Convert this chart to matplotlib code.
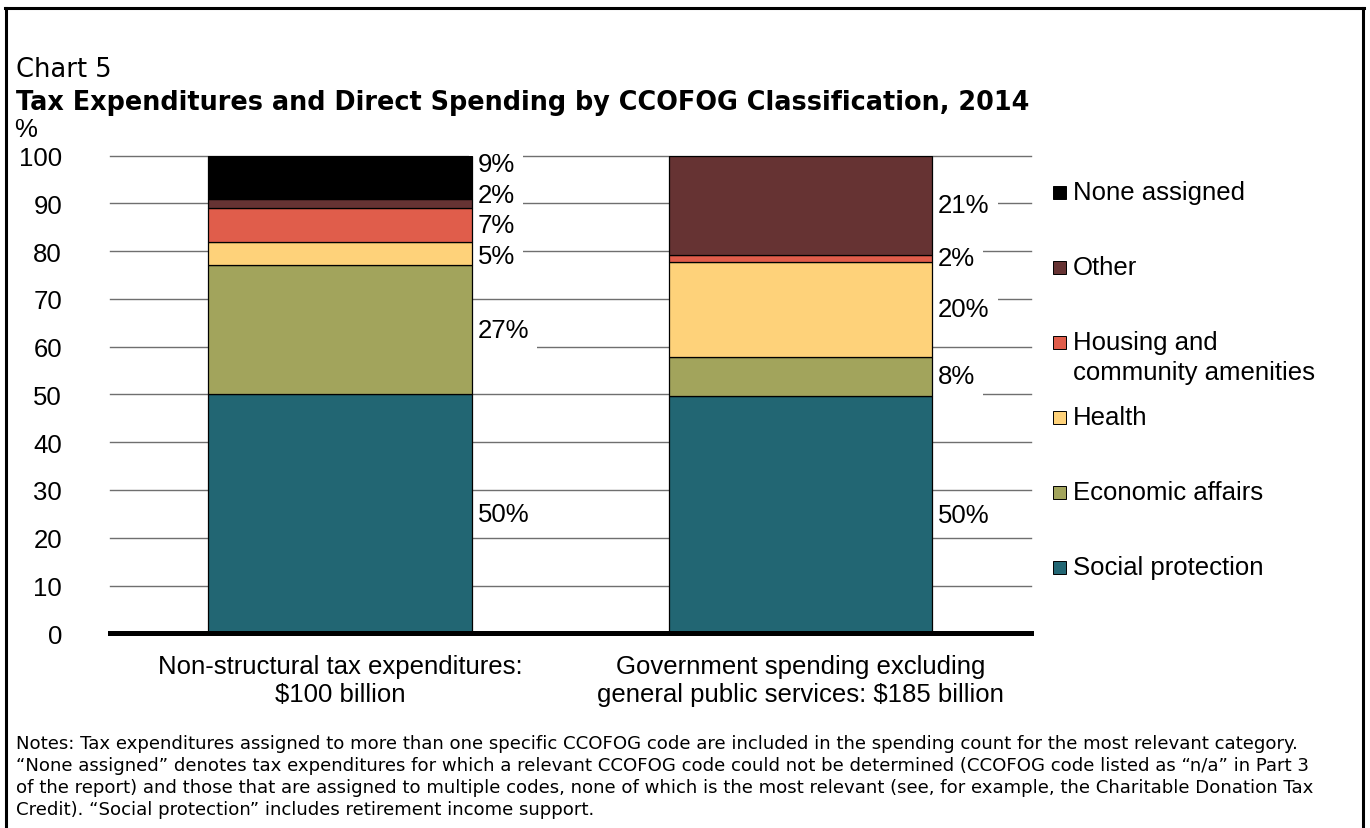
import matplotlib
matplotlib.use("Agg")
import matplotlib.pyplot as plt
from matplotlib.patches import Rectangle
from matplotlib.lines import Line2D
from matplotlib.transforms import blended_transform_factory

# ---- data -------------------------------------------------------------
groups = ["Non-structural tax expenditures:\n$100 billion",
          "Government spending excluding\ngeneral public services: $185 billion"]
series = ["Social protection", "Economic affairs", "Health",
          "Housing and\ncommunity amenities", "Other", "None assigned"]
colors = ["#226673", "#A2A45C", "#FED27A", "#E05D4B", "#663333", "#000000"]

tax_expenditures = [50, 27, 5, 7, 2, 9]
gov_spending = [49.6, 8.3, 19.8, 1.5, 20.8, 0]
yticks = [0, 10, 20, 30, 40, 50, 60, 70, 80, 90, 100]

notes = ("Notes: Tax expenditures assigned to more than one specific CCOFOG code are included in the spending count for the most relevant category.\n"
         "\u201cNone assigned\u201d denotes tax expenditures for which a relevant CCOFOG code could not be determined (CCOFOG code listed as \u201cn/a\u201d in Part 3\n"
         "of the report) and those that are assigned to multiple codes, none of which is the most relevant (see, for example, the Charitable Donation Tax\n"
         "Credit). \u201cSocial protection\u201d includes retirement income support.")

# ---- figure -----------------------------------------------------------
W, H = 1370, 829
fig = plt.figure(figsize=(W / 100, H / 100), dpi=100)
arial = "Liberation Sans"
gothic = "DejaVu Sans"
fs = 18.5

def fx(px):
    return px / W

def fy(py):
    return 1 - py / H

ax = fig.add_axes([fx(110), fy(634.3), fx(1030.5) - fx(110), fy(156.5) - fy(634.3)])
ax.set_xlim(-0.5, 1.5)
ax.set_ylim(0, 100)
for s in ax.spines.values():
    s.set_visible(False)

ax.set_yticks(yticks)
ax.set_yticklabels([str(t) for t in yticks], fontfamily=arial, fontsize=fs)
ax.tick_params(axis="y", length=0, pad=34.5)
ax.set_xticks([])
ax.yaxis.grid(True, color="#6f6f6f", linewidth=1.0, zorder=0)
ax.set_axisbelow(True)
for gl in ax.get_ygridlines():
    gl.set_clip_on(False)

bar_w = 0.573
xpos = [0, 1]
data = [tax_expenditures, gov_spending]

for gi, vals in enumerate(data):
    bottom = 0
    centers = []
    for si, v in enumerate(vals):
        if v > 0:
            ax.bar(xpos[gi], v, bottom=bottom, width=bar_w, color=colors[si],
                   edgecolor="black", linewidth=0.9, zorder=3)
            centers.append([bottom + v / 2, v])
        bottom += v
    # keep neighbouring value labels from overlapping
    gap = 6.4
    pos = [c[0] for c in centers]
    for i in range(1, len(pos)):
        pos[i] = max(pos[i], pos[i - 1] + gap)
    pos[-1] = min(pos[-1], 98.2)
    for i in range(len(pos) - 2, -1, -1):
        pos[i] = min(pos[i], pos[i + 1] - gap)
    for (c, v), p in zip(centers, pos):
        ax.annotate(f"{v:.0f}%", xy=(xpos[gi] + bar_w / 2, p),
                    xytext=(4.0, 0), textcoords="offset points",
                    ha="left", va="center", fontfamily=arial, fontsize=fs,
                    zorder=2.5,
                    bbox=dict(boxstyle="square,pad=0.32", fc="white", ec="none"))

# heavy baseline
ax.axhline(0, color="black", linewidth=3.6, zorder=4, clip_on=False)

# category labels, one line at a time
cat_tr = blended_transform_factory(ax.transData, fig.transFigure)
for gi, g in enumerate(groups):
    for li, line in enumerate(g.split("\n")):
        ax.text(xpos[gi], fy(667 + 28.5 * li), line, ha="center", va="center",
                fontfamily=arial, fontsize=fs, transform=cat_tr)

# "%" unit label
fig.text(fx(14), fy(130), "%", ha="left", va="center", fontfamily=arial, fontsize=fs)

# legend
leg_top = 193
leg_step = 75
for k, si in enumerate(range(len(series) - 1, -1, -1)):
    yc = leg_top + k * leg_step
    fig.patches.append(Rectangle((fx(1053), fy(yc + 6.5)), fx(13), 13 / H,
                                 transform=fig.transFigure, facecolor=colors[si],
                                 edgecolor="black", linewidth=0.7))
    for j, line in enumerate(series[si].split("\n")):
        fig.text(fx(1073), fy(yc + 30 * j), line, ha="left", va="center",
                 fontfamily=arial, fontsize=fs)

# titles
fig.text(fx(16), fy(70), "Chart 5", ha="left", va="center", fontfamily=gothic,
         fontsize=18.5)
fig.text(fx(16), fy(103), "Tax Expenditures and Direct Spending by CCOFOG Classification, 2014",
         ha="left", va="center", fontfamily=gothic, fontweight="bold", fontsize=18.4)

# notes
fig.text(fx(16), fy(735), notes, ha="left", va="top", fontfamily=gothic,
         fontsize=13.1, linespacing=1.29, multialignment="left")

# frame
lw = 2.2
fig.lines.append(Line2D([fx(6), fx(6)], [fy(9), fy(H + 5)], transform=fig.transFigure,
                        color="black", linewidth=lw))
fig.lines.append(Line2D([fx(1363), fx(1363)], [fy(9), fy(H + 5)], transform=fig.transFigure,
                        color="black", linewidth=lw))
fig.lines.append(Line2D([fx(5), fx(1364)], [fy(9), fy(9)], transform=fig.transFigure,
                        color="black", linewidth=lw))

fig.savefig("out.png", dpi=100)
